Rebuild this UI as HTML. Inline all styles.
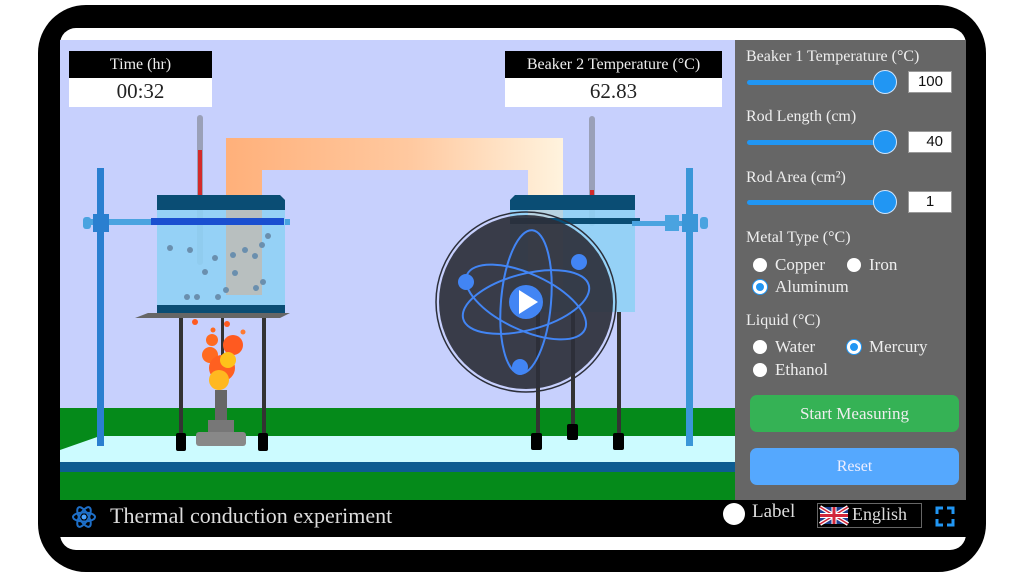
<!DOCTYPE html>
<html><head><meta charset="utf-8"><style>
*{margin:0;padding:0;box-sizing:border-box}
body{width:1024px;height:576px;background:#fff;position:relative;overflow:hidden;font-family:"Liberation Serif",serif}
.a{position:absolute}
.lbl{position:absolute;left:746px;color:#eee;font-size:16px}
.trk{position:absolute;left:747px;width:138px;height:5px;background:#2196f3;border-radius:3px}
.th{position:absolute;left:873px;width:24px;height:24px;border-radius:50%;background:#2196f3;border:1.5px solid #cfe6ff}
.inp{position:absolute;left:908px;width:44px;height:22px;background:#fff;border:1px solid #999;font-family:"Liberation Sans",sans-serif;font-size:15px;color:#111;text-align:right;padding-right:8px;line-height:20px}
.rad{position:absolute;width:14px;height:14px;border-radius:50%;background:#fff}
.rad.on{border:3.5px solid #fff;background:#2196f3;box-shadow:0 0 0 1px #2196f3}
.rt{position:absolute;color:#eee;font-size:17px}
</style></head><body>
<div class="a" style="left:38px;top:5px;width:948px;height:567px;background:#000;border-radius:48px"></div>
<div class="a" style="left:60px;top:28px;width:906px;height:522px;background:#fff;border-radius:16px"></div>
<svg class="a" style="left:0;top:0" width="1024" height="576">
<defs>
<linearGradient id="rod" x1="0" x2="1"><stop offset="0" stop-color="#ffb07a"/><stop offset=".55" stop-color="#ffc9a0"/><stop offset="1" stop-color="#fff3de"/></linearGradient>
</defs>
<rect x="60" y="40" width="675" height="460" fill="#c7d0fd"/>
<rect x="60" y="408" width="675" height="92" fill="#058a1a"/>
<polygon points="100,436 735,436 735,462 60,462 60,450" fill="#ccfbff"/>
<rect x="60" y="462" width="675" height="10" fill="#0d5c91"/>
<path d="M226,205 V138 H563 V195 H528 V170 H262 V205 Z" fill="url(#rod)"/>
<rect x="97" y="168" width="7" height="278" fill="#2a7fd0"/>
<rect x="85" y="219" width="205" height="6" fill="#4aa3e0"/>
<rect x="93" y="214" width="16" height="18" fill="#2a7fd0"/>
<rect x="83" y="217" width="8" height="12" rx="3" fill="#4aa3e0"/>
<rect x="197" y="115" width="6" height="150" rx="3" fill="#9aa0b8"/>
<rect x="198" y="150" width="4" height="50" fill="#d32a2a"/>
<rect x="157" y="200" width="128" height="110" fill="#8fd0f5" opacity=".9"/>
<rect x="226" y="205" width="36" height="90" fill="#c8b8a8" opacity=".7"/>
<g fill="#6a8fae">
<circle cx="170" cy="248" r="3"/><circle cx="190" cy="250" r="3"/><circle cx="215" cy="258" r="3"/><circle cx="233" cy="255" r="3"/><circle cx="245" cy="250" r="3"/><circle cx="235" cy="273" r="3"/><circle cx="205" cy="272" r="3"/><circle cx="263" cy="282" r="3"/><circle cx="256" cy="288" r="3"/><circle cx="187" cy="297" r="3"/><circle cx="197" cy="297" r="3"/><circle cx="218" cy="297" r="3"/><circle cx="226" cy="290" r="3"/><circle cx="268" cy="236" r="3"/><circle cx="262" cy="245" r="3"/><circle cx="255" cy="256" r="3"/>
</g>
<polygon points="157,195 280,195 285,200 285,210 157,210" fill="#0a4d74"/>
<rect x="151" y="218" width="133" height="7" fill="#1a4fd0"/>
<rect x="157" y="305" width="128" height="9" fill="#0a4d74"/>
<polygon points="135,318 148,313 290,313 280,318" fill="#666"/>
<rect x="179" y="318" width="4" height="118" fill="#333"/><rect x="262" y="318" width="4" height="118" fill="#333"/><rect x="221" y="318" width="3" height="40" fill="#333"/>
<rect x="176" y="433" width="10" height="18" rx="2" fill="#000"/><rect x="258" y="433" width="10" height="18" rx="2" fill="#000"/>
<rect x="215" y="390" width="12" height="30" fill="#666"/>
<rect x="208" y="420" width="26" height="12" fill="#777"/>
<rect x="196" y="432" width="50" height="14" rx="3" fill="#888"/>
<g>
<circle cx="210" cy="355" r="8" fill="#ff6a20"/><circle cx="233" cy="345" r="10" fill="#ff5a20"/><circle cx="222" cy="368" r="13" fill="#ff6020"/><circle cx="228" cy="360" r="8" fill="#ffc21a"/><circle cx="219" cy="380" r="10" fill="#ffb820"/><circle cx="212" cy="340" r="6" fill="#ff6a20"/><circle cx="195" cy="322" r="3" fill="#ff5a20"/><circle cx="227" cy="324" r="3" fill="#ff5a20"/><circle cx="243" cy="332" r="2.5" fill="#ff7a30"/><circle cx="213" cy="330" r="2.5" fill="#ff6a20"/>
</g>
<rect x="589" y="116" width="6" height="110" rx="3" fill="#9aa0b8"/>
<rect x="590" y="190" width="4" height="5" fill="#d32a2a"/>
<rect x="510" y="200" width="125" height="112" fill="#8fd0f5" opacity=".9"/>
<rect x="528" y="205" width="35" height="90" fill="#c8d4d8" opacity=".7"/>
<polygon points="510,200 515,195 635,195 635,210 510,210" fill="#0a4d74"/>
<rect x="510" y="218" width="130" height="6" fill="#0a4d74"/>
<rect x="632" y="221" width="50" height="5" fill="#4aa3e0"/>
<rect x="665" y="215" width="14" height="16" fill="#4aa3e0"/>
<rect x="686" y="168" width="7" height="278" fill="#3a96d8"/>
<rect x="682" y="214" width="16" height="18" fill="#3a96d8"/>
<rect x="700" y="217" width="8" height="12" rx="3" fill="#4aa3e0"/>
<rect x="536" y="312" width="4" height="124" fill="#333"/><rect x="571" y="312" width="4" height="115" fill="#333"/><rect x="617" y="312" width="4" height="124" fill="#333"/>
<rect x="531" y="433" width="11" height="17" rx="2" fill="#000"/><rect x="567" y="424" width="11" height="16" rx="2" fill="#000"/><rect x="613" y="433" width="11" height="17" rx="2" fill="#000"/>
<circle cx="526" cy="302" r="90" fill="none" stroke="#2c2f3a" stroke-width="1.5"/>
<circle cx="526" cy="302" r="87" fill="#2c2f3a" opacity=".92"/>
<g fill="none" stroke="#4285f4" stroke-width="2">
<ellipse cx="526" cy="302" rx="65" ry="28" transform="rotate(-15 526 302)"/>
<ellipse cx="526" cy="302" rx="65" ry="28" transform="rotate(25 526 302)"/>
<ellipse cx="526" cy="302" rx="25" ry="72" transform="rotate(5 526 302)"/>
</g>
<g fill="#4285f4"><circle cx="466" cy="282" r="8"/><circle cx="579" cy="262" r="8"/><circle cx="520" cy="367" r="8"/><circle cx="526" cy="302" r="17"/></g>
<polygon points="519,290 519,314 538,302" fill="#fff"/>
<rect x="735" y="40" width="231" height="460" fill="#666"/>
<rect x="60" y="500" width="906" height="37" fill="#000"/>
<g fill="none" stroke="#1e6fc8" stroke-width="2">
<ellipse cx="84" cy="517" rx="11" ry="4.5"/><ellipse cx="84" cy="517" rx="11" ry="4.5" transform="rotate(60 84 517)"/><ellipse cx="84" cy="517" rx="11" ry="4.5" transform="rotate(-60 84 517)"/>
</g><circle cx="84" cy="517" r="2.5" fill="#4aa3ff"/>
<circle cx="734" cy="514" r="11" fill="#fff"/>
<rect x="817.5" y="503.5" width="104" height="24" fill="none" stroke="#666"/>
<rect x="820" y="507" width="28" height="17" fill="#1f3f8f"/>
<path d="M820,507 L848,524 M848,507 L820,524" stroke="#fff" stroke-width="4"/>
<path d="M820,507 L848,524 M848,507 L820,524" stroke="#d2263a" stroke-width="1.5"/>
<path d="M834,507 V524 M820,515.5 H848" stroke="#fff" stroke-width="5"/>
<path d="M834,507 V524 M820,515.5 H848" stroke="#d2263a" stroke-width="3"/>
<g fill="none" stroke="#2196f3" stroke-width="3"><path d="M937,514 V508 H943 M947,508 H953 V514 M953,519 V525 H947 M943,525 H937 V519"/></g>
</svg>
<div class="a" style="left:69px;top:51px;width:143px;height:27px;background:#000;color:#eee;font-size:16px;text-align:center;line-height:28px">Time (hr)</div>
<div class="a" style="left:69px;top:78px;width:143px;height:29px;background:#fff;color:#222;font-size:21px;text-align:center;line-height:26px">00:32</div>
<div class="a" style="left:505px;top:51px;width:217px;height:27px;background:#000;color:#eee;font-size:16px;text-align:center;line-height:28px">Beaker 2 Temperature (°C)</div>
<div class="a" style="left:505px;top:78px;width:217px;height:29px;background:#fff;color:#222;font-size:21px;text-align:center;line-height:26px">62.83</div>

<div class="lbl" style="top:48px">Beaker 1 Temperature (°C)</div>
<div class="trk" style="top:80px"></div><div class="th" style="top:70px"></div><div class="inp" style="top:71px">100</div>
<div class="lbl" style="top:108px">Rod Length (cm)</div>
<div class="trk" style="top:140px"></div><div class="th" style="top:130px"></div><div class="inp" style="top:131px">40</div>
<div class="lbl" style="top:169px">Rod Area (cm²)</div>
<div class="trk" style="top:200px"></div><div class="th" style="top:190px"></div><div class="inp" style="top:191px;text-align:center;padding:0">1</div>
<div class="lbl" style="top:229px">Metal Type (°C)</div>
<div class="rad" style="left:753px;top:258px"></div><div class="rt" style="left:775px;top:255px">Copper</div>
<div class="rad" style="left:847px;top:258px"></div><div class="rt" style="left:869px;top:255px">Iron</div>
<div class="rad on" style="left:753px;top:280px"></div><div class="rt" style="left:775px;top:277px">Aluminum</div>
<div class="lbl" style="top:312px">Liquid (°C)</div>
<div class="rad" style="left:753px;top:340px"></div><div class="rt" style="left:775px;top:337px">Water</div>
<div class="rad on" style="left:847px;top:340px"></div><div class="rt" style="left:869px;top:337px">Mercury</div>
<div class="rad" style="left:753px;top:363px"></div><div class="rt" style="left:775px;top:360px">Ethanol</div>
<div class="a" style="left:750px;top:395px;width:209px;height:37px;background:#35b255;border-radius:7px;color:#eee;font-size:17px;text-align:center;line-height:37px">Start Measuring</div>
<div class="a" style="left:750px;top:448px;width:209px;height:37px;background:#55a8fe;border-radius:7px;color:#eef;font-size:16px;text-align:center;line-height:37px">Reset</div>

<div class="a" style="left:110px;top:503px;color:#ddd;font-size:22px">Thermal conduction experiment</div>
<div class="a" style="left:752px;top:501px;color:#ddd;font-size:19px">Label</div>
<div class="a" style="left:852px;top:504px;color:#ddd;font-size:18px">English</div>
</body></html>
